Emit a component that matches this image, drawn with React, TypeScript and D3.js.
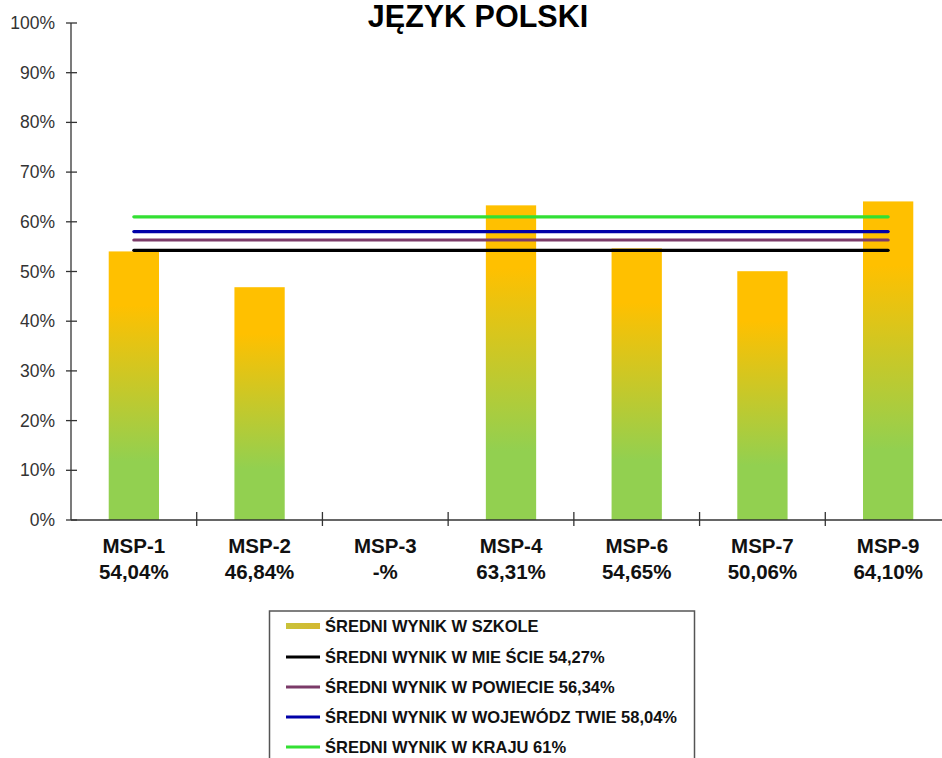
import React from "react";
import * as d3 from "d3";

const categories = ["MSP-1", "MSP-2", "MSP-3", "MSP-4", "MSP-6", "MSP-7", "MSP-9"];
const schoolValues: (number | null)[] = [54.04, 46.84, null, 63.31, 54.65, 50.06, 64.1];
const refNames = ["MIE ŚCIE", "POWIECIE", "WOJEWÓDZ TWIE", "KRAJU"];
const refValues = [54.27, 56.34, 58.04, 61];
const refLabels = ["54,27%", "56,34%", "58,04%", "61%"];
const refColors = ["#000000", "#7b3a68", "#0000a8", "#33e033"];
const yTicks = [0, 10, 20, 30, 40, 50, 60, 70, 80, 90, 100];

const W = 942;
const H = 758;
const FONT = "'Liberation Sans', Arial, Helvetica, sans-serif";

const fmt = (v: number | null) =>
  v === null ? "-%" : v.toFixed(2).replace(".", ",") + "%";

export default function App() {
  const x = d3.scaleBand<string>().domain(categories).range([71, 951]).padding(0);
  const y = d3.scaleLinear().domain([0, 100]).range([520, 23]);
  const bw = x.bandwidth() * 0.4;
  const lineX1 = (x(categories[0]) as number) + x.bandwidth() / 2;
  const lineX2 = (x(categories[categories.length - 1]) as number) + x.bandwidth() / 2;
  const boundaries = categories.map((c) => x(c) as number).concat([x.range()[1]]);

  return (
    <svg
      width={W}
      height={H}
      style={{ position: "absolute", left: 0, top: 0, background: "#fff" }}
      fontFamily={FONT}
    >
      <defs>
        <linearGradient id="barGrad" x1="0" y1="0" x2="0" y2="1">
          <stop offset="0" stopColor="#ffc000" />
          <stop offset="0.2" stopColor="#ffc000" />
          <stop offset="0.78" stopColor="#92d050" />
          <stop offset="1" stopColor="#92d050" />
        </linearGradient>
        <linearGradient id="legGrad" x1="0" y1="0" x2="1" y2="0">
          <stop offset="0" stopColor="#c9c23a" />
          <stop offset="1" stopColor="#d4b830" />
        </linearGradient>
      </defs>

      {/* Title */}
      <text x={478} y={27} textAnchor="middle" fontSize={30.5} fontWeight="bold" fill="#000">
        JĘZYK POLSKI
      </text>

      {/* Bars */}
      {categories.map((c, i) => {
        const v = schoolValues[i];
        if (v === null) return null;
        const cx = (x(c) as number) + x.bandwidth() / 2;
        return (
          <rect
            key={c}
            x={cx - bw / 2}
            y={y(v)}
            width={bw}
            height={y(0) - y(v)}
            fill="url(#barGrad)"
          />
        );
      })}

      {/* Reference lines */}
      {refValues.map((v, i) => (
        <line
          key={i}
          x1={lineX1}
          x2={lineX2}
          y1={y(v)}
          y2={y(v)}
          stroke={refColors[i]}
          strokeWidth={3.2}
          strokeLinecap="round"
        />
      ))}

      {/* Y axis */}
      <line x1={71} x2={71} y1={y(100)} y2={y(0)} stroke="#333" strokeWidth={1.3} />
      {yTicks.map((t) => (
        <g key={t}>
          <line x1={66} x2={77} y1={y(t)} y2={y(t)} stroke="#333" strokeWidth={1.3} />
          <text
            x={55}
            y={y(t) + 6}
            textAnchor="end"
            fontSize={17.5}
            fill="#333"
          >
            {t}%
          </text>
        </g>
      ))}

      {/* X axis */}
      <line x1={71} x2={W} y1={y(0)} y2={y(0)} stroke="#333" strokeWidth={1.3} />
      {boundaries.map((bx, i) =>
        i === 0 ? null : (
          <line key={i} x1={bx} x2={bx} y1={y(0) - 8} y2={y(0) + 6} stroke="#333" strokeWidth={1.3} />
        )
      )}
      {categories.map((c, i) => {
        const cx = (x(c) as number) + x.bandwidth() / 2;
        return (
          <g key={c}>
            <text x={cx} y={553} textAnchor="middle" fontSize={20.5} fontWeight="bold" fill="#111">
              {c}
            </text>
            <text x={cx} y={579} textAnchor="middle" fontSize={20.5} fontWeight="bold" fill="#111">
              {fmt(schoolValues[i])}
            </text>
          </g>
        );
      })}

      {/* Legend */}
      <rect x={269.5} y={611} width={425} height={160} fill="#fff" stroke="#555" strokeWidth={1.5} />
      <rect x={286} y={623} width={34} height={6} fill="url(#legGrad)" />
      <text x={325} y={632} fontSize={16.5} fontWeight="bold" fill="#111">
        ŚREDNI WYNIK W SZKOLE
      </text>
      {refNames.map((n, i) => {
        const cy = 657 + i * 30;
        return (
          <g key={n}>
            <line x1={286} x2={320} y1={cy} y2={cy} stroke={refColors[i]} strokeWidth={3} />
            <text x={325} y={cy + 6} fontSize={16.5} fontWeight="bold" fill="#111">
              {`ŚREDNI WYNIK W ${n} ${refLabels[i]}`}
            </text>
          </g>
        );
      })}
    </svg>
  );
}
